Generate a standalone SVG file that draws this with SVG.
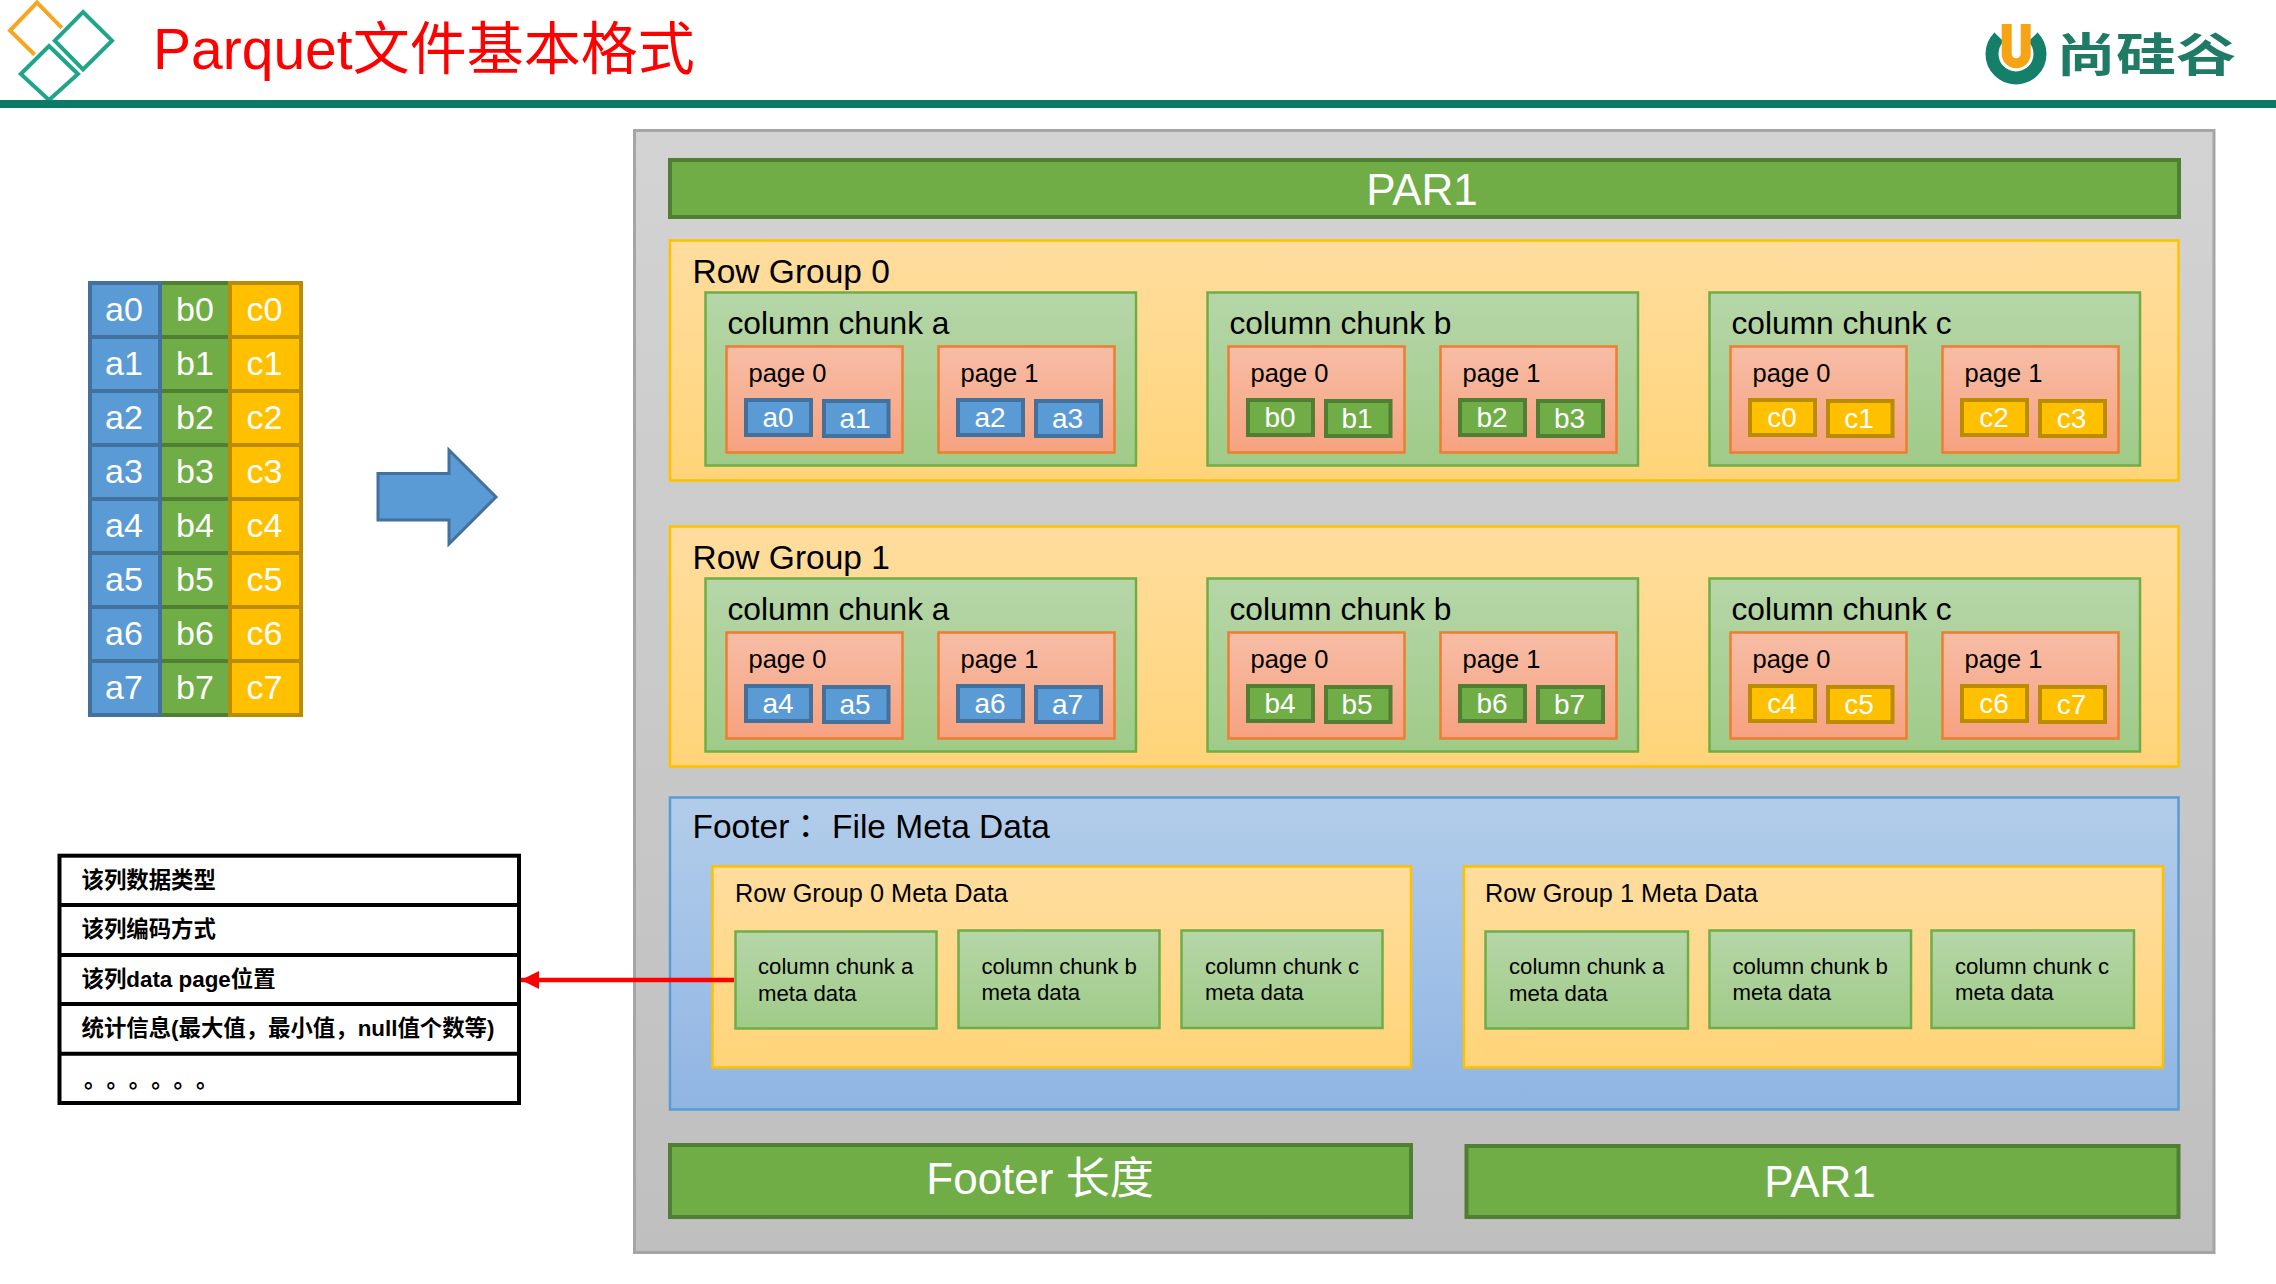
<svg xmlns="http://www.w3.org/2000/svg" width="2276" height="1284" viewBox="0 0 2276 1284">
<defs>
<linearGradient id="gOuter" x1="0" y1="0" x2="0" y2="1"><stop offset="0" stop-color="#d3d3d3"/><stop offset="1" stop-color="#bfbfbf"/></linearGradient>
<linearGradient id="gRow" x1="0" y1="0" x2="0" y2="1"><stop offset="0" stop-color="#ffdd9e"/><stop offset="1" stop-color="#ffd479"/></linearGradient>
<linearGradient id="gChunk" x1="0" y1="0" x2="0" y2="1"><stop offset="0" stop-color="#b6d6a8"/><stop offset="1" stop-color="#9fcb88"/></linearGradient>
<linearGradient id="gPage" x1="0" y1="0" x2="0" y2="1"><stop offset="0" stop-color="#f7bda6"/><stop offset="1" stop-color="#f6a280"/></linearGradient>
<linearGradient id="gFoot" x1="0" y1="0" x2="0" y2="1"><stop offset="0" stop-color="#b2cdea"/><stop offset="1" stop-color="#90b5e3"/></linearGradient>
<marker id="arrowRed" markerUnits="userSpaceOnUse" markerWidth="20" markerHeight="20" refX="18" refY="9" orient="auto"><path d="M0 0L18 9L0 18Z" fill="#ff0000"/></marker>
</defs>
<style>
text{font-family:"Liberation Sans","Noto Sans CJK SC",sans-serif}
.outer{fill:url(#gOuter);stroke:#a5a5a5;stroke-width:3}
.bar{fill:#70ad47;stroke:#507e32;stroke-width:4}
.row{fill:url(#gRow);stroke:#ffc000;stroke-width:2.5}
.chunk{fill:url(#gChunk);stroke:#70ad47;stroke-width:2.5}
.page{fill:url(#gPage);stroke:#ed7d31;stroke-width:2.5}
.foot{fill:url(#gFoot);stroke:#5b9bd5;stroke-width:2.5}
.ca{fill:#5b9bd5;stroke:#41719c;stroke-width:4}
.cb{fill:#70ad47;stroke:#507e32;stroke-width:4}
.cc{fill:#ffc000;stroke:#bc8c00;stroke-width:4}
.w{fill:#fff;text-anchor:middle}
.t34{font-size:33.5px;fill:#000}
.t32{font-size:31.7px;fill:#000}
.t26{font-size:25.3px;fill:#000}
.t22{font-size:22.2px;fill:#000}
.c28{font-size:28px}
.c34{font-size:34px}
.b43{font-size:44px}
.info{font-size:22.4px;font-weight:bold;fill:#000}
.teal{fill:none;stroke:#1fa58a;stroke-width:4}
.halo{fill:none;stroke:#fff;stroke-width:8}
</style>
<g id="header">
<polyline points="52,43 64.5,30.7 37,2.5 10,30.5 37,57" fill="none" stroke="#f5a623" stroke-width="4"/>
<polygon class="halo" points="83,12 112,40.7 83,69.3 54.8,40.7"/>
<polygon class="teal" points="83,12 112,40.7 83,69.3 54.8,40.7"/>
<polygon class="halo" points="49,46 78,74 49,100 20.8,74"/>
<polygon class="teal" points="49,46 78,74 49,100 20.8,74"/>
<text x="153" y="69" font-size="57" fill="#ff0000">Parquet文件基本格式</text>
<rect x="0" y="100" width="2276" height="8" fill="#0b7a66"/>
<path d="M1999 37A24 24 0 1 0 2033 37" fill="none" stroke="#15806a" stroke-width="13"/>
<path d="M2006.7 24V53.8a9.5 9.5 0 0 0 19 0V24" fill="none" stroke="#f7a414" stroke-width="10"/>
<text x="2056" y="71" font-size="46" font-weight="bold" fill="#1f7a66" textLength="180" lengthAdjust="spacingAndGlyphs">尚硅谷</text>
</g>
<g id="source-table">
<g id="col-b">
<rect class="cb" x="160" y="283" width="70" height="54"/><rect class="cb" x="160" y="337" width="70" height="54"/><rect class="cb" x="160" y="391" width="70" height="54"/><rect class="cb" x="160" y="445" width="70" height="54"/><rect class="cb" x="160" y="499" width="70" height="54"/><rect class="cb" x="160" y="553" width="70" height="54"/><rect class="cb" x="160" y="607" width="70" height="54"/><rect class="cb" x="160" y="661" width="70" height="54"/>
</g>
<g id="col-a">
<rect class="ca" x="90" y="283" width="70" height="54"/><rect class="ca" x="90" y="337" width="70" height="54"/><rect class="ca" x="90" y="391" width="70" height="54"/><rect class="ca" x="90" y="445" width="70" height="54"/><rect class="ca" x="90" y="499" width="70" height="54"/><rect class="ca" x="90" y="553" width="70" height="54"/><rect class="ca" x="90" y="607" width="70" height="54"/><rect class="ca" x="90" y="661" width="70" height="54"/>
</g>
<g id="col-c">
<rect class="cc" x="230" y="283" width="71" height="54"/><rect class="cc" x="230" y="337" width="71" height="54"/><rect class="cc" x="230" y="391" width="71" height="54"/><rect class="cc" x="230" y="445" width="71" height="54"/><rect class="cc" x="230" y="499" width="71" height="54"/><rect class="cc" x="230" y="553" width="71" height="54"/><rect class="cc" x="230" y="607" width="71" height="54"/><rect class="cc" x="230" y="661" width="71" height="54"/>
</g>
<g class="w c34">
<text x="124" y="320.5">a0</text><text x="124" y="374.5">a1</text><text x="124" y="428.5">a2</text><text x="124" y="482.5">a3</text><text x="124" y="536.5">a4</text><text x="124" y="590.5">a5</text><text x="124" y="644.5">a6</text><text x="124" y="698.5">a7</text>
<text x="195" y="320.5">b0</text><text x="195" y="374.5">b1</text><text x="195" y="428.5">b2</text><text x="195" y="482.5">b3</text><text x="195" y="536.5">b4</text><text x="195" y="590.5">b5</text><text x="195" y="644.5">b6</text><text x="195" y="698.5">b7</text>
<text x="264.5" y="320.5">c0</text><text x="264.5" y="374.5">c1</text><text x="264.5" y="428.5">c2</text><text x="264.5" y="482.5">c3</text><text x="264.5" y="536.5">c4</text><text x="264.5" y="590.5">c5</text><text x="264.5" y="644.5">c6</text><text x="264.5" y="698.5">c7</text>
</g>
</g>
<g id="big-arrow"><polygon points="378,473.5 449,473.5 449,450 496,497 449,544 449,520 378,520" fill="#5b9bd5" stroke="#41719c" stroke-width="3"/></g>
<g id="column-info">
<rect x="59.5" y="855.7" width="459.5" height="247.3" fill="#fff" stroke="#000" stroke-width="4"/>
<path d="M59.5 905H519M59.5 955H519M59.5 1004H519M59.5 1053.7H519" stroke="#000" stroke-width="4" fill="none"/>
<text class="info" x="81.5" y="887.5">该列数据类型</text>
<text class="info" x="81.5" y="937">该列编码方式</text>
<text class="info" x="81.5" y="986.5">该列data page位置</text>
<text class="info" x="81.5" y="1035.5">统计信息(最大值，最小值，null值个数等)</text>
<text class="info" x="84 106.4 128.8 151.2 173.6 196" y="1087">。。。。。。</text>
</g>
<g id="file-outer"><rect class="outer" x="634.5" y="130.5" width="1579.5" height="1122"/></g>
<g id="par1-top"><rect class="bar" x="670" y="160" width="1509" height="57"/><text class="w b43" x="1422" y="204.5">PAR1</text></g>
<g id="row-group-0">
<rect class="row" x="670" y="240.5" width="1508.5" height="240"/>
<text class="t34" x="692.5" y="282.5">Row Group 0</text>
<g id="rg0-chunk-a">
<rect class="chunk" x="705.5" y="292.5" width="430.5" height="173"/><text class="t32" x="727.5" y="334">column chunk a</text>
<rect class="page" x="726.5" y="346.5" width="176" height="106"/><text class="t26" x="748.5" y="381.5" style="font-size:25.5px">page 0</text>
<rect class="page" x="938.5" y="346.5" width="176" height="106"/><text class="t26" x="960.5" y="381.5" style="font-size:25.5px">page 1</text>
<rect class="ca" x="746" y="400" width="65" height="35"/><text class="w c28" x="778" y="426.5">a0</text>
<rect class="ca" x="824" y="401" width="64.5" height="35"/><text class="w c28" x="855" y="427.5">a1</text>
<rect class="ca" x="958" y="400" width="65" height="35"/><text class="w c28" x="990" y="426.5">a2</text>
<rect class="ca" x="1036" y="401" width="65" height="35"/><text class="w c28" x="1067.5" y="427.5">a3</text>
</g>
<g id="rg0-chunk-b" transform="translate(502,0)">
<rect class="chunk" x="705.5" y="292.5" width="430.5" height="173"/><text class="t32" x="727.5" y="334">column chunk b</text>
<rect class="page" x="726.5" y="346.5" width="176" height="106"/><text class="t26" x="748.5" y="381.5" style="font-size:25.5px">page 0</text>
<rect class="page" x="938.5" y="346.5" width="176" height="106"/><text class="t26" x="960.5" y="381.5" style="font-size:25.5px">page 1</text>
<rect class="cb" x="746" y="400" width="65" height="35"/><text class="w c28" x="778" y="426.5">b0</text>
<rect class="cb" x="824" y="401" width="64.5" height="35"/><text class="w c28" x="855" y="427.5">b1</text>
<rect class="cb" x="958" y="400" width="65" height="35"/><text class="w c28" x="990" y="426.5">b2</text>
<rect class="cb" x="1036" y="401" width="65" height="35"/><text class="w c28" x="1067.5" y="427.5">b3</text>
</g>
<g id="rg0-chunk-c" transform="translate(1004,0)">
<rect class="chunk" x="705.5" y="292.5" width="430.5" height="173"/><text class="t32" x="727.5" y="334">column chunk c</text>
<rect class="page" x="726.5" y="346.5" width="176" height="106"/><text class="t26" x="748.5" y="381.5" style="font-size:25.5px">page 0</text>
<rect class="page" x="938.5" y="346.5" width="176" height="106"/><text class="t26" x="960.5" y="381.5" style="font-size:25.5px">page 1</text>
<rect class="cc" x="746" y="400" width="65" height="35"/><text class="w c28" x="778" y="426.5">c0</text>
<rect class="cc" x="824" y="401" width="64.5" height="35"/><text class="w c28" x="855" y="427.5">c1</text>
<rect class="cc" x="958" y="400" width="65" height="35"/><text class="w c28" x="990" y="426.5">c2</text>
<rect class="cc" x="1036" y="401" width="65" height="35"/><text class="w c28" x="1067.5" y="427.5">c3</text>
</g>
</g>
<g id="row-group-1" transform="translate(0,286)">
<rect class="row" x="670" y="240.5" width="1508.5" height="240"/>
<text class="t34" x="692.5" y="282.5">Row Group 1</text>
<g id="rg1-chunk-a">
<rect class="chunk" x="705.5" y="292.5" width="430.5" height="173"/><text class="t32" x="727.5" y="334">column chunk a</text>
<rect class="page" x="726.5" y="346.5" width="176" height="106"/><text class="t26" x="748.5" y="381.5" style="font-size:25.5px">page 0</text>
<rect class="page" x="938.5" y="346.5" width="176" height="106"/><text class="t26" x="960.5" y="381.5" style="font-size:25.5px">page 1</text>
<rect class="ca" x="746" y="400" width="65" height="35"/><text class="w c28" x="778" y="426.5">a4</text>
<rect class="ca" x="824" y="401" width="64.5" height="35"/><text class="w c28" x="855" y="427.5">a5</text>
<rect class="ca" x="958" y="400" width="65" height="35"/><text class="w c28" x="990" y="426.5">a6</text>
<rect class="ca" x="1036" y="401" width="65" height="35"/><text class="w c28" x="1067.5" y="427.5">a7</text>
</g>
<g id="rg1-chunk-b" transform="translate(502,0)">
<rect class="chunk" x="705.5" y="292.5" width="430.5" height="173"/><text class="t32" x="727.5" y="334">column chunk b</text>
<rect class="page" x="726.5" y="346.5" width="176" height="106"/><text class="t26" x="748.5" y="381.5" style="font-size:25.5px">page 0</text>
<rect class="page" x="938.5" y="346.5" width="176" height="106"/><text class="t26" x="960.5" y="381.5" style="font-size:25.5px">page 1</text>
<rect class="cb" x="746" y="400" width="65" height="35"/><text class="w c28" x="778" y="426.5">b4</text>
<rect class="cb" x="824" y="401" width="64.5" height="35"/><text class="w c28" x="855" y="427.5">b5</text>
<rect class="cb" x="958" y="400" width="65" height="35"/><text class="w c28" x="990" y="426.5">b6</text>
<rect class="cb" x="1036" y="401" width="65" height="35"/><text class="w c28" x="1067.5" y="427.5">b7</text>
</g>
<g id="rg1-chunk-c" transform="translate(1004,0)">
<rect class="chunk" x="705.5" y="292.5" width="430.5" height="173"/><text class="t32" x="727.5" y="334">column chunk c</text>
<rect class="page" x="726.5" y="346.5" width="176" height="106"/><text class="t26" x="748.5" y="381.5" style="font-size:25.5px">page 0</text>
<rect class="page" x="938.5" y="346.5" width="176" height="106"/><text class="t26" x="960.5" y="381.5" style="font-size:25.5px">page 1</text>
<rect class="cc" x="746" y="400" width="65" height="35"/><text class="w c28" x="778" y="426.5">c4</text>
<rect class="cc" x="824" y="401" width="64.5" height="35"/><text class="w c28" x="855" y="427.5">c5</text>
<rect class="cc" x="958" y="400" width="65" height="35"/><text class="w c28" x="990" y="426.5">c6</text>
<rect class="cc" x="1036" y="401" width="65" height="35"/><text class="w c28" x="1067.5" y="427.5">c7</text>
</g>
</g>
<g id="footer">
<rect class="foot" x="670" y="797.5" width="1508.5" height="312"/>
<text class="t34" x="692.5" y="838">Footer<tspan x="789" style="font-family:'Noto Sans CJK TC',sans-serif">：</tspan><tspan x="832">File Meta Data</tspan></text>
<g id="rg0-meta">
<rect class="row" x="712.5" y="866.5" width="698.5" height="201"/>
<text class="t26" x="735" y="902">Row Group 0 Meta Data</text>
<rect class="chunk" x="735.5" y="931.5" width="201" height="97"/><text class="t22" x="758" y="974">column chunk a</text><text class="t22" x="758" y="1001">meta data</text>
<rect class="chunk" x="958.5" y="930.5" width="201" height="97.5"/><text class="t22" x="981.5" y="974">column chunk b</text><text class="t22" x="981.5" y="1000">meta data</text>
<rect class="chunk" x="1181.5" y="930.5" width="201" height="97.5"/><text class="t22" x="1205" y="974">column chunk c</text><text class="t22" x="1205" y="1000">meta data</text>
</g>
<g id="rg1-meta">
<rect class="row" x="1464" y="866.5" width="699" height="201"/>
<text class="t26" x="1485" y="902">Row Group 1 Meta Data</text>
<rect class="chunk" x="1485.5" y="931.5" width="202.5" height="97"/><text class="t22" x="1509" y="974">column chunk a</text><text class="t22" x="1509" y="1001">meta data</text>
<rect class="chunk" x="1709.5" y="930.5" width="201.5" height="97.5"/><text class="t22" x="1732.5" y="974">column chunk b</text><text class="t22" x="1732.5" y="1000">meta data</text>
<rect class="chunk" x="1931.5" y="930.5" width="202.5" height="97.5"/><text class="t22" x="1955" y="974">column chunk c</text><text class="t22" x="1955" y="1000">meta data</text>
</g>
</g>
<g id="footer-length"><rect class="bar" x="670" y="1145" width="741" height="72"/><text class="w b43" x="1040" y="1194">Footer 长度</text></g>
<g id="par1-bottom"><rect class="bar" x="1466.5" y="1146" width="712" height="71"/><text class="w b43" x="1820" y="1197">PAR1</text></g>
<g id="connectors"><line x1="734" y1="980" x2="521" y2="980" stroke="#ff0000" stroke-width="4.5" marker-end="url(#arrowRed)"/></g>
</svg>
